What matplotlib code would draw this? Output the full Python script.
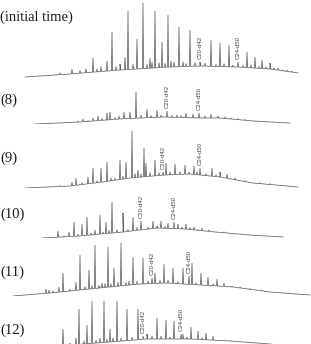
import matplotlib
matplotlib.use("Agg")
import matplotlib.pyplot as plt
import numpy as np

# ---- data (x = retention position, h = signal above the trace base) ----
labels = ["(initial time)", "(8)", "(9)", "(10)", "(11)", "(12)"]

# initial time
t0_hump_x = [25, 70, 120, 170, 200, 237, 270, 298]
t0_hump_h = [1, 4, 8, 11, 12, 11, 9, 5]
t0_peak_x = [72, 93, 107, 112, 125, 128, 137, 143, 150, 155, 162, 168, 174, 179, 190,
             200, 211, 220, 229, 238, 247, 255, 262, 270, 278, 287]
t0_peak_h = [9, 20, 17, 46, 21, 67, 39, 75, 20, 67, 36, 63, 16, 51, 48,
             16, 38, 35, 33, 16, 26, 21, 18, 15, 10, 8]
t0_minor_x = [60, 80, 86, 97, 101, 116, 120, 133, 147, 152, 159, 165, 171, 183, 186,
              195, 205, 216, 224, 233, 243, 251, 259, 266, 274, 283, 292]
t0_minor_dh = [2, 3, 4, 3, 5, 4, 6, 5, 4, 6, 5, 4, 6, 5, 3, 4, 3, 2, 3, 2, 2, 3, 2, 2, 2, 1, 1]
t0_marks = (200, 238)

# (8)
t1_hump_x = [35, 80, 120, 163, 200, 220, 253, 290]
t1_hump_h = [0, 2, 5, 7, 6, 6, 3, 1]
t1_peak_x = [78, 83, 93, 98, 107, 110, 124, 130, 136, 147, 157, 167, 177, 186, 193,
             199, 211, 218, 225]
t1_peak_h = [3, 5, 6, 8, 11, 12, 12, 12, 32, 15, 14, 13, 9, 11, 10, 11, 10, 8, 7]
t1_minor_x = [88, 102, 115, 119, 141, 151, 161, 172, 181, 205, 231, 238, 245]
t1_minor_dh = [1, 2, 2, 3, 3, 2, 2, 2, 2, 2, 1, 1, 1]
t1_marks = (167, 199)

# (9)
t2_hump_x = [25, 70, 103, 130, 165, 190, 220, 253, 298]
t2_hump_h = [0, 2, 6, 10, 13, 14, 11, 5, 1]
t2_peak_x = [72, 76, 88, 93, 101, 107, 115, 120, 126, 132, 138, 144, 146, 155, 163,
             166, 175, 185, 194, 200, 212, 220, 227]
t2_peak_h = [6, 10, 11, 20, 20, 26, 10, 28, 26, 57, 18, 40, 25, 28, 16,
             25, 24, 23, 22, 20, 20, 16, 14]
t2_minor_x = [60, 82, 97, 111, 123, 135, 141, 150, 159, 170, 180, 189, 197, 206, 216,
              235, 245, 260, 270]
t2_minor_dh = [1, 2, 2, 3, 3, 4, 3, 4, 3, 3, 3, 2, 3, 2, 2, 2, 1, 1, 1]
t2_marks = (163, 200)

# (10)
t3_hump_x = [42, 80, 123, 157, 185, 215, 250, 283]
t3_hump_h = [0, 2, 6, 10, 9, 6, 3, 1]
t3_peak_x = [58, 69, 74, 82, 87, 95, 100, 106, 112, 123, 133, 141, 153, 161, 168,
             174, 178, 186, 194, 202, 209, 217]
t3_peak_h = [7, 6, 16, 14, 21, 8, 23, 16, 36, 25, 21, 17, 17, 17, 15,
             16, 14, 14, 11, 10, 8, 6]
t3_minor_x = [64, 78, 91, 103, 109, 117, 128, 137, 148, 157, 165, 182, 190, 198, 224]
t3_minor_dh = [1, 2, 2, 2, 3, 3, 2, 3, 2, 2, 2, 2, 2, 1, 1]
t3_marks = (141, 174)

# (11)
t4_hump_x = [13, 50, 100, 140, 167, 200, 233, 270, 310]
t4_hump_h = [0, 3, 8, 12, 13, 11, 9, 4, 1]
t4_peak_x = [46, 59, 63, 76, 80, 89, 95, 102, 108, 114, 121, 133, 143, 152, 155,
             164, 173, 183, 189, 192, 201, 208, 217, 224, 232]
t4_peak_h = [7, 9, 23, 14, 41, 26, 51, 13, 49, 28, 53, 39, 38, 18, 23,
             32, 28, 28, 20, 33, 23, 19, 17, 13, 10]
t4_minor_x = [49, 53, 70, 85, 92, 99, 105, 111, 118, 126, 129, 137, 148, 160, 168,
              178, 196, 213, 240, 250, 262]
t4_minor_dh = [3, 2, 2, 3, 3, 3, 4, 3, 4, 3, 4, 3, 3, 3, 3, 2, 2, 2, 1, 1, 1]
t4_marks = (152, 189)

# (12)
t5_hump_x = [40, 57, 97, 147, 190, 230, 270, 300]
t5_hump_h = [0, 1, 4, 8, 8, 6, 3, 0]
t5_peak_x = [63, 76, 79, 87, 92, 100, 104, 110, 117, 127, 138, 143, 147, 157, 166,
             174, 181, 183, 191, 198, 206, 213]
t5_peak_h = [18, 9, 38, 22, 46, 9, 46, 18, 46, 38, 38, 11, 13, 29, 27,
             26, 13, 13, 20, 16, 14, 11]
t5_minor_x = [70, 84, 96, 107, 113, 121, 132, 152, 161, 170, 187, 202]
t5_minor_dh = [2, 3, 3, 3, 4, 3, 3, 3, 3, 2, 2, 2]
t5_marks = (143, 181)

# ---- layout (pixels of the 311x344 picture) ----
W, H = 311, 344
trace_base_y = [78, 124, 188, 238, 296, 347]
label_y = [17, 100, 158, 214, 272, 330]
axes_h = 90

traces = [
    (t0_hump_x, t0_hump_h, t0_peak_x, t0_peak_h, t0_minor_x, t0_minor_dh, t0_marks),
    (t1_hump_x, t1_hump_h, t1_peak_x, t1_peak_h, t1_minor_x, t1_minor_dh, t1_marks),
    (t2_hump_x, t2_hump_h, t2_peak_x, t2_peak_h, t2_minor_x, t2_minor_dh, t2_marks),
    (t3_hump_x, t3_hump_h, t3_peak_x, t3_peak_h, t3_minor_x, t3_minor_dh, t3_marks),
    (t4_hump_x, t4_hump_h, t4_peak_x, t4_peak_h, t4_minor_x, t4_minor_dh, t4_marks),
    (t5_hump_x, t5_hump_h, t5_peak_x, t5_peak_h, t5_minor_x, t5_minor_dh, t5_marks),
]

fig = plt.figure(figsize=(W / 100, H / 100), dpi=100)
fig.patch.set_facecolor("white")

line_col = "#606060"
half_w = 0.55

for i, (hx, hh, px, ph, mx, mdh, marks) in enumerate(traces):
    base = trace_base_y[i]
    ax = fig.add_axes([0, (H - base) / H, 1, axes_h / H])
    ax.set_xlim(0, W)
    ax.set_ylim(0, axes_h)
    ax.axis("off")
    ax.patch.set_alpha(0)

    hx = np.array(hx, dtype=float)
    hh = np.array(hh, dtype=float)
    # spikes sitting on the hump
    xs = list(hx)
    ys = list(hh)
    spikes_x = list(px) + list(mx)
    spikes_top = list(ph) + list(np.interp(mx, hx, hh) + np.array(mdh))
    for x, top in zip(spikes_x, spikes_top):
        b = np.interp(x, hx, hh)
        xs += [x - half_w, x, x + half_w]
        ys += [b, top, b]
    order = np.argsort(xs, kind="stable")
    ax.plot(np.array(xs)[order], np.array(ys)[order], color=line_col, lw=0.55,
            solid_joinstyle="miter")

    # marker compound labels
    for x, name in zip(marks, ["C20-d42", "C24-d50"]):
        top = ph[list(px).index(x)]
        ax.text(x, top + 3, name, rotation=90, ha="center", va="bottom",
                fontsize=4.3, family=["Liberation Sans", "DejaVu Sans"], color="#444444")

    fig.text(0.0 / W, 1 - label_y[i] / H, labels[i], ha="left", va="center",
             fontsize=10.5, family=["Liberation Serif", "DejaVu Serif"], color="#1a1a1a")

fig.savefig("out.png", dpi=100, facecolor="white")
